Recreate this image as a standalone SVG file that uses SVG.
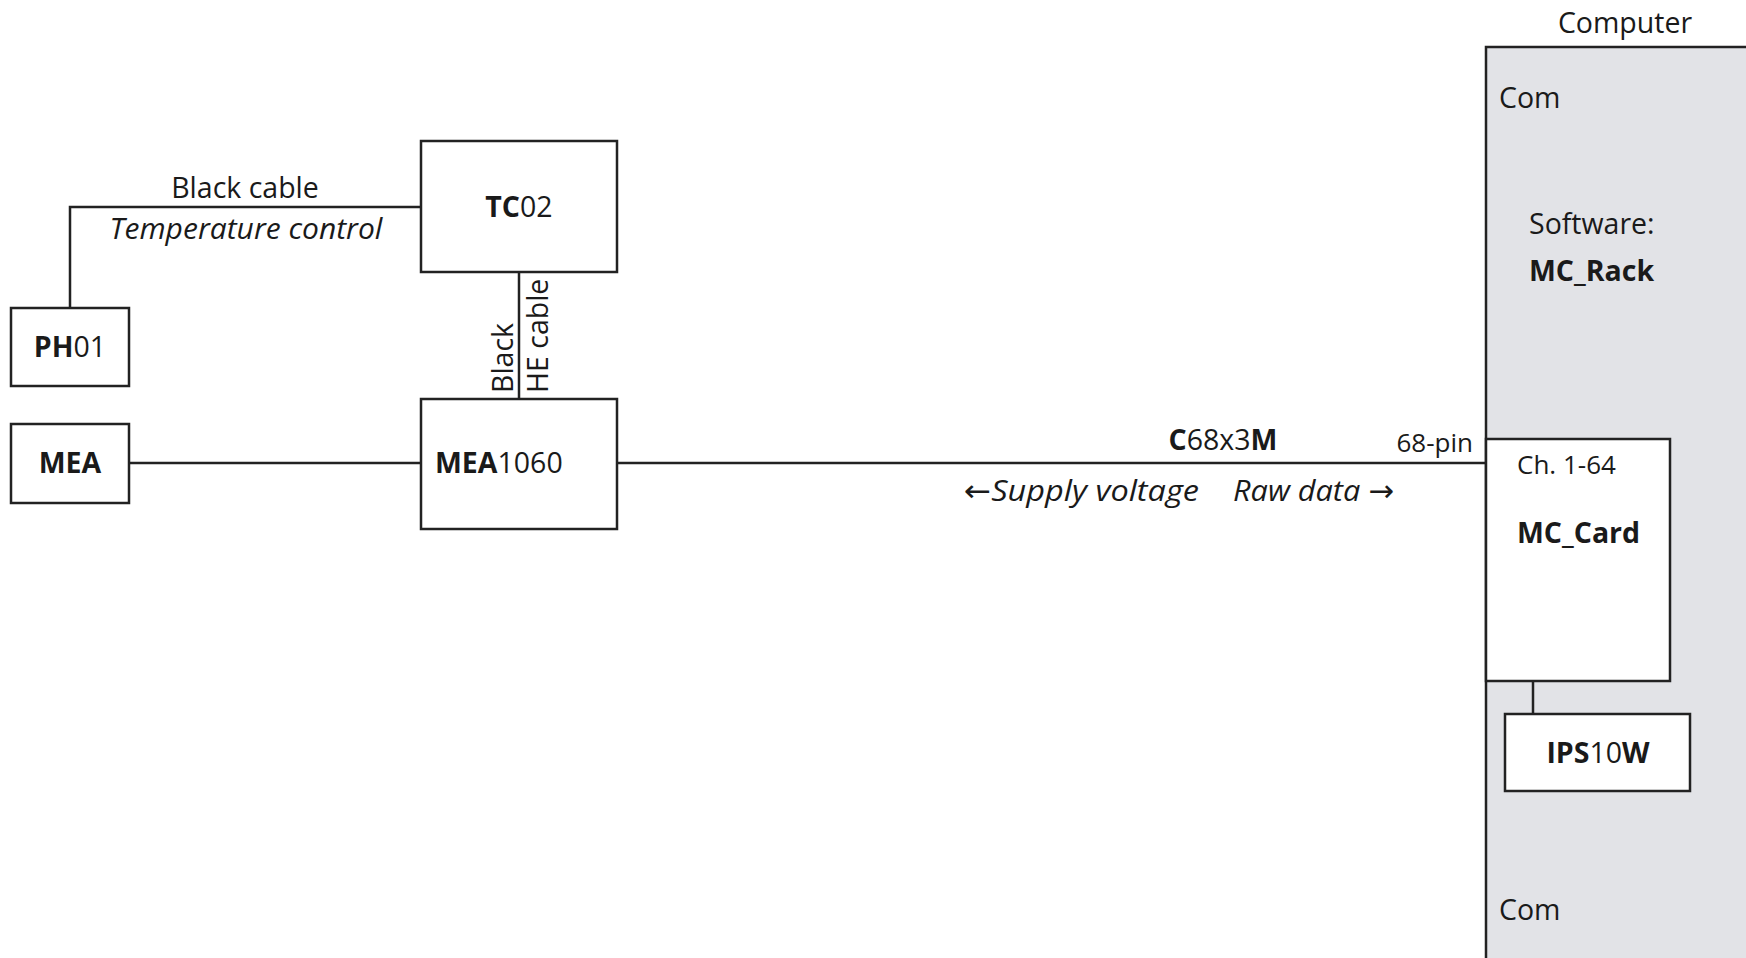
<svg xmlns="http://www.w3.org/2000/svg" width="1746" height="958" viewBox="0 0 1746 958">
<style>
text{font-family:"Open Sans","Noto Sans","Liberation Sans",sans-serif;font-size:28.5px;fill:#1a1a1a}
.b{font-weight:bold}
.i{font-style:italic;font-size:30px}
.ar{font-family:"DejaVu Sans",sans-serif;font-style:normal;font-size:30px}
.box{fill:#fff;stroke:#222;stroke-width:2.5}
.ln{fill:none;stroke:#222;stroke-width:2.5}
</style>
<rect width="1746" height="958" fill="#fff"/>
<g id="computer">
<rect x="1486" y="47" width="270" height="930" fill="#e2e3e7" stroke="#222" stroke-width="2.5"/>
<text x="1625" y="33" text-anchor="middle">Computer</text>
<text x="1499" y="108">Com</text>
<text x="1529" y="234">Software:</text>
<text x="1529" y="281" class="b">MC_Rack</text>
<text x="1499" y="920">Com</text>
</g>
<g id="connectors">
<polyline class="ln" points="70,308 70,207 421,207"/>
<line class="ln" x1="519" y1="272" x2="519" y2="399"/>
<line class="ln" x1="129" y1="463" x2="421" y2="463"/>
<line class="ln" x1="617" y1="463" x2="1486" y2="463"/>
<line class="ln" x1="1533" y1="681" x2="1533" y2="714"/>
<text x="245" y="198" text-anchor="middle">Black cable</text>
<text x="246" y="239" text-anchor="middle" class="i">Temperature control</text>
<text transform="translate(513,393) rotate(-90)">Black</text>
<text transform="translate(548,393) rotate(-90)">HE cable</text>
<text x="1223" y="450" text-anchor="middle"><tspan class="b">C</tspan>68x3<tspan class="b">M</tspan></text>
<text x="1473" y="452" text-anchor="end" style="font-size:26px">68-pin</text>
<text x="964" y="501" class="i" textLength="235" lengthAdjust="spacingAndGlyphs"><tspan class="ar">←</tspan>Supply voltage</text>
<text x="1233" y="501" class="i" textLength="161" lengthAdjust="spacingAndGlyphs">Raw data <tspan class="ar">→</tspan></text>
</g>
<g id="tc02">
<rect class="box" x="421" y="141" width="196" height="131"/>
<text x="519" y="217" text-anchor="middle"><tspan class="b">TC</tspan>02</text>
</g>
<g id="ph01">
<rect class="box" x="11" y="308" width="118" height="78"/>
<text x="70" y="357" text-anchor="middle"><tspan class="b">PH</tspan>01</text>
</g>
<g id="mea">
<rect class="box" x="11" y="424" width="118" height="79"/>
<text x="70" y="473" text-anchor="middle" class="b">MEA</text>
</g>
<g id="mea1060">
<rect class="box" x="421" y="399" width="196" height="130"/>
<text x="435" y="473"><tspan class="b">MEA</tspan>1060</text>
</g>
<g id="mc_card">
<rect class="box" x="1486" y="439" width="184" height="242"/>
<text x="1517" y="474" style="font-size:26px">Ch. 1-64</text>
<text x="1517" y="543" class="b">MC_Card</text>
</g>
<g id="ips10w">
<rect class="box" x="1505" y="714" width="185" height="77"/>
<text x="1598" y="763" text-anchor="middle"><tspan class="b">IPS</tspan>10<tspan class="b">W</tspan></text>
</g>
</svg>
